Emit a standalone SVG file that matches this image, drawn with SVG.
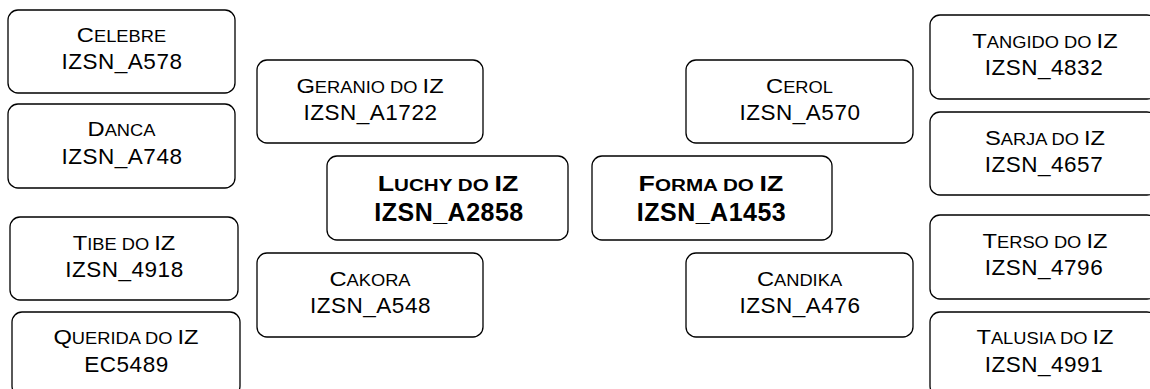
<svg xmlns="http://www.w3.org/2000/svg" width="1150" height="389" viewBox="0 0 1150 389">
<style>
.box{fill:#fff;stroke:#000;stroke-width:1.3}
text{font-family:"Liberation Sans",Arial,sans-serif;fill:#000;text-anchor:middle}
.n{font-size:21px}
.s{font-size:16.2px}
.i{font-size:22.5px;letter-spacing:0.5px}
.bn{font-size:22.3px;font-weight:bold}
.bs{font-size:17.2px}
.bi{font-size:25px;font-weight:bold;letter-spacing:0.5px}
</style>
<rect width="1150" height="389" fill="#fff"/>
<g id="connectors"/>
<g id="celebre"><rect class="box" x="8" y="10" width="227" height="83" rx="10"/><text class="n" transform="translate(121.5 41.5) scale(1.13 1)">C<tspan class="s">ELEBRE</tspan></text><text class="i" x="122" y="69.3">IZSN_A578</text></g>
<g id="danca"><rect class="box" x="8" y="104" width="227" height="84" rx="10"/><text class="n" transform="translate(121.5 136) scale(1.13 1)">D<tspan class="s">ANCA</tspan></text><text class="i" x="122" y="163.8">IZSN_A748</text></g>
<g id="tibe"><rect class="box" x="10" y="217" width="228" height="83" rx="10"/><text class="n" transform="translate(124 249.5) scale(1.13 1)">T<tspan class="s">IBE DO </tspan>IZ</text><text class="i" x="124.5" y="277">IZSN_4918</text></g>
<g id="querida"><rect class="box" x="12" y="312" width="228" height="84" rx="10"/><text class="n" transform="translate(126 344) scale(1.13 1)">Q<tspan class="s">UERIDA DO </tspan>IZ</text><text class="i" x="126.5" y="372">EC5489</text></g>
<g id="geranio"><rect class="box" x="257" y="60" width="226" height="83" rx="10"/><text class="n" transform="translate(370 92.5) scale(1.13 1)">G<tspan class="s">ERANIO DO </tspan>IZ</text><text class="i" x="370.5" y="120">IZSN_A1722</text></g>
<g id="luchy"><rect class="box" x="327" y="156" width="241" height="84" rx="10"/><text class="bn" transform="translate(448 190.5) scale(1.2 1)">L<tspan class="bs">UCHY DO </tspan>IZ</text><text class="bi" x="449" y="221">IZSN_A2858</text></g>
<g id="cakora"><rect class="box" x="257" y="253" width="226" height="84" rx="10"/><text class="n" transform="translate(370 285.5) scale(1.13 1)">C<tspan class="s">AKORA</tspan></text><text class="i" x="370.5" y="313">IZSN_A548</text></g>
<g id="cerol"><rect class="box" x="686" y="60" width="227" height="83" rx="10"/><text class="n" transform="translate(799.5 92.5) scale(1.13 1)">C<tspan class="s">EROL</tspan></text><text class="i" x="800" y="120">IZSN_A570</text></g>
<g id="forma"><rect class="box" x="592" y="156" width="240" height="84" rx="10"/><text class="bn" transform="translate(711 190.5) scale(1.2 1)">F<tspan class="bs">ORMA DO </tspan>IZ</text><text class="bi" x="711.5" y="221">IZSN_A1453</text></g>
<g id="candika"><rect class="box" x="686" y="253" width="227" height="84" rx="10"/><text class="n" transform="translate(799.5 285.5) scale(1.13 1)">C<tspan class="s">ANDIKA</tspan></text><text class="i" x="800" y="313">IZSN_A476</text></g>
<g id="tangido"><rect class="box" x="930" y="15" width="227" height="84" rx="10"/><text class="n" transform="translate(1045 47.5) scale(1.13 1)">T<tspan class="s">ANGIDO DO </tspan>IZ</text><text class="i" x="1044" y="75">IZSN_4832</text></g>
<g id="sarja"><rect class="box" x="930" y="112" width="227" height="83" rx="10"/><text class="n" transform="translate(1045 144.5) scale(1.13 1)">S<tspan class="s">ARJA DO </tspan>IZ</text><text class="i" x="1044" y="172">IZSN_4657</text></g>
<g id="terso"><rect class="box" x="930" y="215" width="227" height="84" rx="10"/><text class="n" transform="translate(1045 247.5) scale(1.13 1)">T<tspan class="s">ERSO DO </tspan>IZ</text><text class="i" x="1044" y="275">IZSN_4796</text></g>
<g id="talusia"><rect class="box" x="930" y="312" width="227" height="84" rx="10"/><text class="n" transform="translate(1045 344) scale(1.13 1)">T<tspan class="s">ALUSIA DO </tspan>IZ</text><text class="i" x="1044" y="372">IZSN_4991</text></g>
</svg>
